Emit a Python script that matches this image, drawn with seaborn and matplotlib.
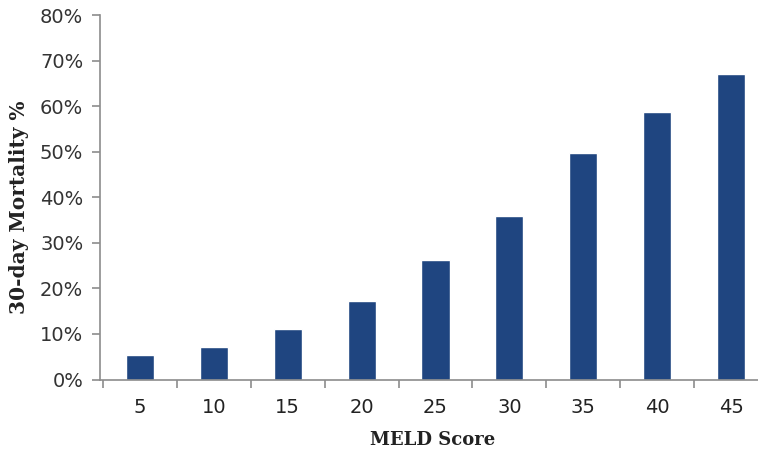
import matplotlib
matplotlib.use("Agg")
import matplotlib.pyplot as plt
import seaborn as sns
import pandas as pd
from matplotlib.ticker import FuncFormatter

meld_scores = ["5", "10", "15", "20", "25", "30", "35", "40", "45"]
mortality = [5.3, 7.1, 11.2, 17.2, 26.2, 35.9, 49.8, 58.8, 67.0]

df = pd.DataFrame({"MELD Score": meld_scores, "Mortality": mortality})

sns.set_theme(style="white")
plt.rcParams['font.family'] = ['DejaVu Sans']

fig = plt.figure(figsize=(7.58, 4.54), dpi=100)
W, H = 758, 454
x0 = 100
x_right = 768
y_top = 15.3
y_bot = 379.5
ax = fig.add_axes([x0 / W, (H - y_bot) / H, (x_right - x0) / W, (y_bot - y_top) / H])

sns.barplot(data=df, x="MELD Score", y="Mortality", color="#1F4580",
            saturation=1, width=0.38, ax=ax)

ax.set_ylim(0, 80)
ax.set_xlim(-0.54, 8.5)
ax.set_yticks(range(0, 81, 10))
ax.yaxis.set_major_formatter(FuncFormatter(lambda v, p: f"{int(v)}%"))

# category boundary ticks on the x axis
ax.set_xticks([i - 0.5 for i in range(len(meld_scores) + 1)], minor=False)
ax.set_xticklabels([])
ax.set_xticks(range(len(meld_scores)), minor=True)
ax.set_xticklabels(meld_scores, minor=True)
ax.tick_params(axis="x", which="minor", length=0, pad=13, labelsize=14, labelcolor="#222222")
ax.tick_params(axis="x", which="major", direction="out", length=6, width=1.2, color="#8c8c8c", bottom=True)
ax.tick_params(axis="y", direction="out", length=6, width=1.2, color="#8c8c8c", left=True,
               labelsize=14, labelcolor="#333333", pad=6)

for s in ["top", "right"]:
    ax.spines[s].set_visible(False)
for s in ["left", "bottom"]:
    ax.spines[s].set_color("#8c8c8c")
    ax.spines[s].set_linewidth(1.2)

ax.set_xlabel("")
ax.set_ylabel("")
fig.text(433 / W, 1 - 440 / H, "MELD Score", ha="center", va="center",
         fontsize=13, fontweight="bold", family="DejaVu Serif", color="#222222")
fig.text(19 / W, 1 - 207 / H, "30-day Mortality %", ha="center", va="center", rotation=90,
         fontsize=14.5, fontweight="bold", family="DejaVu Serif", color="#222222")

fig.savefig("out.png", dpi=100)
